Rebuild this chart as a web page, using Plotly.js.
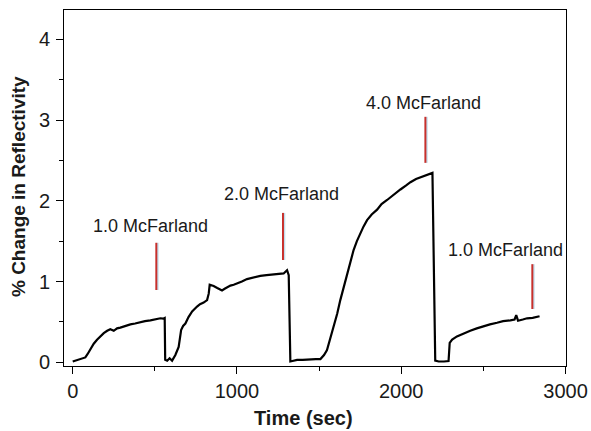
<!DOCTYPE html>
<html>
<head>
<meta charset="utf-8">
<script src="https://cdn.plot.ly/plotly-3.0.1.min.js"></script>
<style>html,body{margin:0;padding:0;background:#fff;}#chart{width:591px;height:431px;}</style>
</head>
<body>
<div id="chart"></div>
<script>
// Time (sec)
const timeSec = [0, 15, 27, 50, 77, 90, 108, 128, 148, 170, 189, 210, 229, 250, 270, 290, 320, 351, 380, 412, 440, 473, 500, 534, 550, 560,
  563, 575, 590, 605, 625, 645, 660, 672, 686, 705, 727, 740, 757, 775, 797, 818, 828, 834, 845, 858, 880, 909, 925, 940, 960, 980, 1000,
  1030, 1061, 1100, 1142, 1180, 1223, 1250, 1284, 1305, 1315,
  1325, 1366, 1400, 1447, 1480, 1508, 1530, 1548, 1570, 1589, 1610, 1629, 1650, 1670, 1690, 1710, 1730, 1751, 1770, 1792, 1820, 1853,
  1880, 1914, 1950, 1995, 2030, 2056, 2090, 2117, 2150, 2178, 2190,
  2207, 2228, 2260, 2288, 2295, 2310, 2339, 2380, 2420, 2460, 2502, 2540, 2583, 2620, 2664, 2690, 2700, 2711, 2740, 2766, 2800, 2842];
// % Change in Reflectivity
const reflectivity = [0.01, 0.02, 0.03, 0.04, 0.06, 0.10, 0.17, 0.23, 0.28, 0.33, 0.36, 0.39, 0.41, 0.39, 0.42, 0.43, 0.45, 0.47, 0.48, 0.50, 0.51, 0.52, 0.53, 0.545, 0.54, 0.55,
  0.03, 0.02, 0.05, 0.02, 0.09, 0.19, 0.40, 0.45, 0.48, 0.56, 0.63, 0.66, 0.69, 0.72, 0.74, 0.77, 0.85, 0.96, 0.955, 0.945, 0.92, 0.89, 0.91, 0.93, 0.95, 0.96, 0.98,
  1.00, 1.03, 1.05, 1.07, 1.08, 1.09, 1.10, 1.10, 1.14, 1.08,
  0.01, 0.03, 0.03, 0.04, 0.04, 0.04, 0.09, 0.15, 0.30, 0.44, 0.60, 0.77, 0.94, 1.10, 1.25, 1.39, 1.50, 1.60, 1.68, 1.76, 1.83, 1.89,
  1.96, 2.01, 2.07, 2.14, 2.19, 2.23, 2.27, 2.29, 2.31, 2.34, 2.345,
  0.02, 0.01, 0.01, 0.015, 0.24, 0.28, 0.32, 0.36, 0.39, 0.42, 0.45, 0.47, 0.49, 0.51, 0.52, 0.53, 0.585, 0.515, 0.53, 0.545, 0.55, 0.57];

// Injection labels and red marker lines
const labelText = ["1.0 McFarland", "2.0 McFarland", "4.0 McFarland", "1.0 McFarland"];
const labelX = [473, 1271, 2134, 2634];
const labelY = [1.69, 2.09, 3.21, 1.39];
const markerX = [509, 1280, 2147, 2798];
const markerYTop = [1.48, 1.85, 3.04, 1.215];
const markerYBottom = [0.895, 1.267, 2.47, 0.66];

const xTickVals = [0, 1000, 2000, 3000];
const yTickVals = [0, 1, 2, 3, 4];
const xTitle = "Time (sec)";
const yTitle = "% Change in Reflectivity";

const fontFam = "Liberation Sans, Arial, Helvetica, sans-serif";

const shapes = [];
for (let i = 0; i < markerX.length; i++) {
  shapes.push({type: 'line', xref: 'x', yref: 'y', x0: markerX[i] + 8, x1: markerX[i] + 8, y0: markerYTop[i], y1: markerYBottom[i],
    line: {color: 'rgba(150,200,225,0.6)', width: 2}});
  shapes.push({type: 'line', xref: 'x', yref: 'y', x0: markerX[i], x1: markerX[i], y0: markerYTop[i], y1: markerYBottom[i],
    line: {color: '#c8302c', width: 2}});
}
const annotations = labelText.map((t, i) => ({
  text: t, x: labelX[i], y: labelY[i], xref: 'x', yref: 'y', showarrow: false,
  font: {family: fontFam, size: 18, color: '#1a1a1a'}
}));
// y tick labels, set a little further from the axis than Plotly's default
yTickVals.forEach(v => annotations.push({
  text: String(v), xref: 'paper', yref: 'y', x: 0, y: v, xanchor: 'right', yanchor: 'middle',
  xshift: -12, showarrow: false, font: {family: fontFam, size: 20, color: '#1a1a1a'}
}));
// axis titles placed as annotations relative to the plot area
annotations.push({text: '<b>' + xTitle + '</b>', xref: 'paper', yref: 'paper', x: 0.478, y: -0.146,
  xanchor: 'center', yanchor: 'middle', showarrow: false, font: {family: fontFam, size: 20, color: '#1a1a1a'}});
annotations.push({text: '<b>' + yTitle + '</b>', xref: 'paper', yref: 'paper', x: -0.092, y: 0.505, textangle: -90,
  xanchor: 'center', yanchor: 'middle', showarrow: false, font: {family: fontFam, size: 19, color: '#1a1a1a'}});

const trace = {
  x: timeSec, y: reflectivity, type: 'scatter', mode: 'lines',
  line: {color: '#000', width: 2.2}, hoverinfo: 'skip'
};

const layout = {
  width: 591, height: 431,
  margin: {l: 64, r: 25, t: 10, b: 65},
  paper_bgcolor: '#fff', plot_bgcolor: '#fff',
  showlegend: false,
  font: {family: fontFam, color: '#1a1a1a'},
  xaxis: {
    range: [-53, 3003], tickvals: xTickVals, ticktext: xTickVals.map(String),
    ticks: 'outside', ticklen: 7, tickwidth: 1, tickcolor: '#000',
    minor: {ticks: 'outside', dtick: 500, tick0: 0, ticklen: 4, tickcolor: '#000', showgrid: false},
    showline: true, linecolor: '#000', linewidth: 1.2, mirror: true,
    showgrid: false, zeroline: false,
    tickfont: {size: 20, family: fontFam, color: '#1a1a1a'}
  },
  yaxis: {
    range: [-0.046, 4.363], tickvals: yTickVals, showticklabels: false,
    ticks: 'outside', ticklen: 7, tickwidth: 1, tickcolor: '#000',
    minor: {ticks: 'outside', dtick: 0.5, tick0: 0, ticklen: 4, tickcolor: '#000', showgrid: false},
    showline: true, linecolor: '#000', linewidth: 1.2, mirror: true,
    showgrid: false, zeroline: false
  },
  shapes: shapes,
  annotations: annotations
};

Plotly.newPlot('chart', [trace], layout, {displayModeBar: false, staticPlot: true});
</script>
</body>
</html>
